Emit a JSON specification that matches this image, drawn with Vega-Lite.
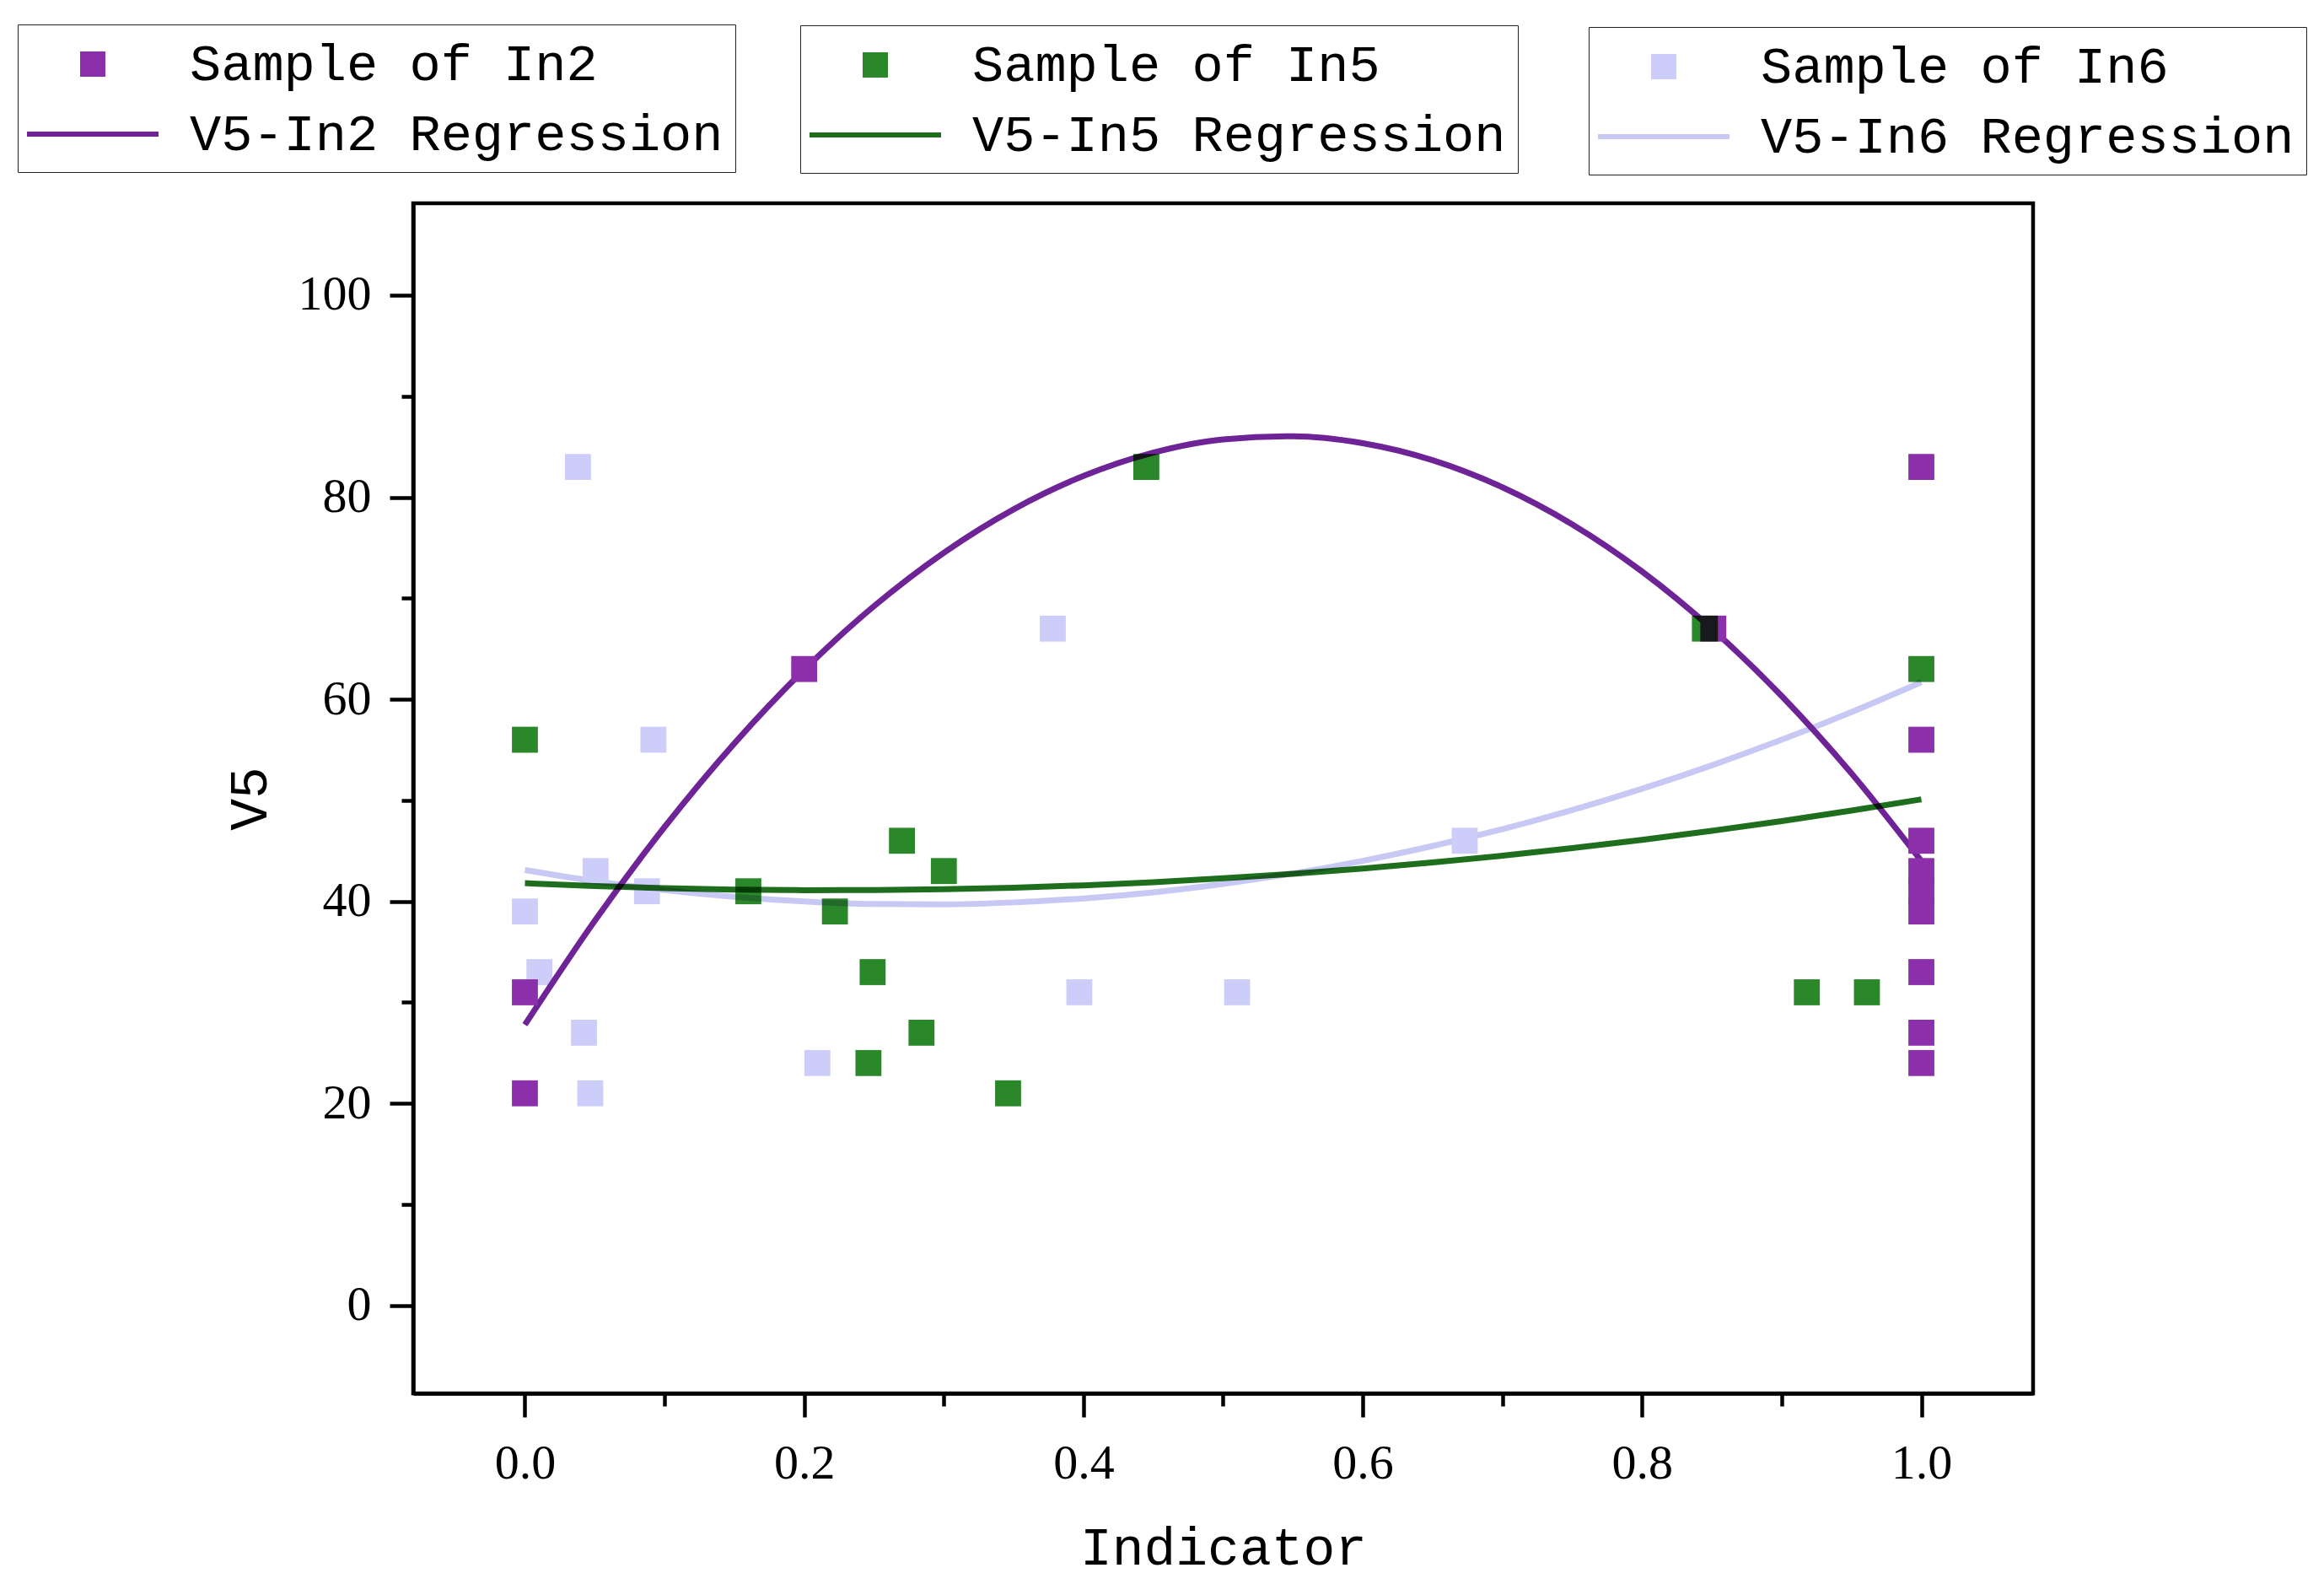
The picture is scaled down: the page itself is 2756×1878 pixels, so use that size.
{
  "$schema": "https://vega.github.io/schema/vega-lite/v6.json",
  "autosize": "none",
  "width": 1921,
  "height": 1411,
  "padding": {"left": 490, "top": 241, "right": 345, "bottom": 226},
  "background": "white",
  "config": {
    "view": {"stroke": "black", "strokeWidth": 4.5},
    "axis": {
      "grid": false,
      "domainColor": "black",
      "domainWidth": 4.5,
      "tickColor": "black",
      "tickWidth": 4.5,
      "labelColor": "black",
      "titleColor": "black",
      "labelFont": "Liberation Serif",
      "labelFontSize": 58,
      "titleFont": "Liberation Mono",
      "titleFontSize": 63,
      "titleFontWeight": "normal"
    }
  },
  "datasets": {
    "in2_pts": [
      {"x": 0, "y": 31, "label": "Sample of In2"},
      {"x": 0, "y": 21, "label": "Sample of In2"},
      {"x": 0.2, "y": 63, "label": "Sample of In2"},
      {"x": 0.851, "y": 67, "label": "Sample of In2"},
      {"x": 1, "y": 83, "label": "Sample of In2"},
      {"x": 1, "y": 56, "label": "Sample of In2"},
      {"x": 1, "y": 46, "label": "Sample of In2"},
      {"x": 1, "y": 43, "label": "Sample of In2"},
      {"x": 1, "y": 41, "label": "Sample of In2"},
      {"x": 1, "y": 39, "label": "Sample of In2"},
      {"x": 1, "y": 33, "label": "Sample of In2"},
      {"x": 1, "y": 27, "label": "Sample of In2"},
      {"x": 1, "y": 24, "label": "Sample of In2"}
    ],
    "in2_fit": [
      {"x": 0, "y": 27.8, "label": "V5-In2 Regression"},
      {"x": 0.05, "y": 38.08, "label": "V5-In2 Regression"},
      {"x": 0.1, "y": 47.36, "label": "V5-In2 Regression"},
      {"x": 0.15, "y": 55.64, "label": "V5-In2 Regression"},
      {"x": 0.2, "y": 62.93, "label": "V5-In2 Regression"},
      {"x": 0.25, "y": 69.22, "label": "V5-In2 Regression"},
      {"x": 0.3, "y": 74.51, "label": "V5-In2 Regression"},
      {"x": 0.35, "y": 78.81, "label": "V5-In2 Regression"},
      {"x": 0.4, "y": 82.11, "label": "V5-In2 Regression"},
      {"x": 0.45, "y": 84.42, "label": "V5-In2 Regression"},
      {"x": 0.5, "y": 85.73, "label": "V5-In2 Regression"},
      {"x": 0.55, "y": 86.04, "label": "V5-In2 Regression"},
      {"x": 0.6, "y": 85.35, "label": "V5-In2 Regression"},
      {"x": 0.65, "y": 83.67, "label": "V5-In2 Regression"},
      {"x": 0.7, "y": 80.99, "label": "V5-In2 Regression"},
      {"x": 0.75, "y": 77.32, "label": "V5-In2 Regression"},
      {"x": 0.8, "y": 72.65, "label": "V5-In2 Regression"},
      {"x": 0.85, "y": 66.98, "label": "V5-In2 Regression"},
      {"x": 0.9, "y": 60.32, "label": "V5-In2 Regression"},
      {"x": 0.95, "y": 52.66, "label": "V5-In2 Regression"},
      {"x": 1, "y": 44.0, "label": "V5-In2 Regression"}
    ],
    "in5_pts": [
      {"x": 0, "y": 56, "label": "Sample of In5"},
      {"x": 0.16, "y": 41, "label": "Sample of In5"},
      {"x": 0.222, "y": 39, "label": "Sample of In5"},
      {"x": 0.249, "y": 33, "label": "Sample of In5"},
      {"x": 0.246, "y": 24, "label": "Sample of In5"},
      {"x": 0.27, "y": 46, "label": "Sample of In5"},
      {"x": 0.284, "y": 27, "label": "Sample of In5"},
      {"x": 0.3, "y": 43, "label": "Sample of In5"},
      {"x": 0.346, "y": 21, "label": "Sample of In5"},
      {"x": 0.445, "y": 83, "label": "Sample of In5"},
      {"x": 0.845, "y": 67, "label": "Sample of In5"},
      {"x": 0.918, "y": 31, "label": "Sample of In5"},
      {"x": 0.961, "y": 31, "label": "Sample of In5"},
      {"x": 1, "y": 63, "label": "Sample of In5"}
    ],
    "in5_fit": [
      {"x": 0, "y": 41.8, "label": "V5-In5 Regression"},
      {"x": 0.05, "y": 41.52, "label": "V5-In5 Regression"},
      {"x": 0.1, "y": 41.31, "label": "V5-In5 Regression"},
      {"x": 0.15, "y": 41.17, "label": "V5-In5 Regression"},
      {"x": 0.2, "y": 41.11, "label": "V5-In5 Regression"},
      {"x": 0.25, "y": 41.12, "label": "V5-In5 Regression"},
      {"x": 0.3, "y": 41.2, "label": "V5-In5 Regression"},
      {"x": 0.35, "y": 41.36, "label": "V5-In5 Regression"},
      {"x": 0.4, "y": 41.59, "label": "V5-In5 Regression"},
      {"x": 0.45, "y": 41.9, "label": "V5-In5 Regression"},
      {"x": 0.5, "y": 42.28, "label": "V5-In5 Regression"},
      {"x": 0.55, "y": 42.73, "label": "V5-In5 Regression"},
      {"x": 0.6, "y": 43.25, "label": "V5-In5 Regression"},
      {"x": 0.65, "y": 43.85, "label": "V5-In5 Regression"},
      {"x": 0.7, "y": 44.52, "label": "V5-In5 Regression"},
      {"x": 0.75, "y": 45.27, "label": "V5-In5 Regression"},
      {"x": 0.8, "y": 46.09, "label": "V5-In5 Regression"},
      {"x": 0.85, "y": 46.98, "label": "V5-In5 Regression"},
      {"x": 0.9, "y": 47.95, "label": "V5-In5 Regression"},
      {"x": 0.95, "y": 48.99, "label": "V5-In5 Regression"},
      {"x": 1, "y": 50.1, "label": "V5-In5 Regression"}
    ],
    "in6_pts": [
      {"x": 0.038, "y": 83, "label": "Sample of In6"},
      {"x": 0.378, "y": 67, "label": "Sample of In6"},
      {"x": 0.092, "y": 56, "label": "Sample of In6"},
      {"x": 0.0506, "y": 43, "label": "Sample of In6"},
      {"x": 0.0874, "y": 41, "label": "Sample of In6"},
      {"x": 0, "y": 39, "label": "Sample of In6"},
      {"x": 0.0104, "y": 33, "label": "Sample of In6"},
      {"x": 0.397, "y": 31, "label": "Sample of In6"},
      {"x": 0.0423, "y": 27, "label": "Sample of In6"},
      {"x": 0.2094, "y": 24, "label": "Sample of In6"},
      {"x": 0.0468, "y": 21, "label": "Sample of In6"},
      {"x": 0.673, "y": 46, "label": "Sample of In6"},
      {"x": 0.51, "y": 31, "label": "Sample of In6"}
    ],
    "in6_fit": [
      {"x": 0, "y": 43.1, "label": "V5-In6 Regression"},
      {"x": 0.05, "y": 42.0, "label": "V5-In6 Regression"},
      {"x": 0.1, "y": 41.12, "label": "V5-In6 Regression"},
      {"x": 0.15, "y": 40.45, "label": "V5-In6 Regression"},
      {"x": 0.2, "y": 39.99, "label": "V5-In6 Regression"},
      {"x": 0.25, "y": 39.74, "label": "V5-In6 Regression"},
      {"x": 0.3, "y": 39.71, "label": "V5-In6 Regression"},
      {"x": 0.35, "y": 39.9, "label": "V5-In6 Regression"},
      {"x": 0.4, "y": 40.29, "label": "V5-In6 Regression"},
      {"x": 0.45, "y": 40.9, "label": "V5-In6 Regression"},
      {"x": 0.5, "y": 41.73, "label": "V5-In6 Regression"},
      {"x": 0.55, "y": 42.76, "label": "V5-In6 Regression"},
      {"x": 0.6, "y": 44.01, "label": "V5-In6 Regression"},
      {"x": 0.65, "y": 45.48, "label": "V5-In6 Regression"},
      {"x": 0.7, "y": 47.15, "label": "V5-In6 Regression"},
      {"x": 0.75, "y": 49.04, "label": "V5-In6 Regression"},
      {"x": 0.8, "y": 51.15, "label": "V5-In6 Regression"},
      {"x": 0.85, "y": 53.47, "label": "V5-In6 Regression"},
      {"x": 0.9, "y": 56.0, "label": "V5-In6 Regression"},
      {"x": 0.95, "y": 58.74, "label": "V5-In6 Regression"},
      {"x": 1, "y": 61.7, "label": "V5-In6 Regression"}
    ]
  },
  "encoding": {
    "x": {
      "field": "x",
      "type": "quantitative",
      "title": "Indicator",
      "scale": {"domain": [-0.08, 1.08], "nice": false, "zero": false},
      "axis": {
        "values": [0, 0.1, 0.2, 0.3, 0.4, 0.5, 0.6, 0.7, 0.8, 0.9, 1.0],
        "format": ".1f",
        "labelExpr": "round(datum.value * 10) % 2 == 0 ? datum.label : ''",
        "tickSize": {"condition": {"test": "round(datum.value * 10) % 2 == 0", "value": 28}, "value": 15},
        "labelPadding": 26,
        "labelFlush": false,
        "titlePadding": 40
      }
    },
    "y": {
      "field": "y",
      "type": "quantitative",
      "title": "V5",
      "scale": {"domain": [-8.7, 109.1], "nice": false, "zero": false},
      "axis": {
        "values": [0, 10, 20, 30, 40, 50, 60, 70, 80, 90, 100],
        "labelExpr": "round(datum.value / 10) % 2 == 0 ? datum.label : ''",
        "tickSize": {"condition": {"test": "round(datum.value / 10) % 2 == 0", "value": 28}, "value": 14},
        "labelPadding": 22,
        "labelFlush": false,
        "titlePadding": 25
      }
    }
  },
  "layer": [
    {
      "layer": [
        {
          "data": {"name": "in6_fit"},
          "mark": {"type": "line", "strokeWidth": 7, "interpolate": "monotone"},
          "encoding": {
            "color": {"field": "label", "type": "nominal"}
          }
        },
        {
          "data": {"name": "in6_pts"},
          "mark": {"type": "point", "filled": true, "size": 5929, "opacity": 1},
          "encoding": {
            "shape": {
              "field": "label",
              "type": "nominal",
              "scale": {"domain": ["Sample of In6", "V5-In6 Regression"], "range": ["M-0.4,-0.4H0.4V0.4H-0.4Z", "M-2.6,0H2.6"]},
              "legend": {
                "title": null, "orient": "none", "legendX": 1394, "legendY": -209, "direction": "vertical",
                "labelFont": "Liberation Mono", "labelFontSize": 62, "labelColor": "black", "labelOffset": 82, "labelLimit": 0,
                "symbolOffset": 42, "symbolSize": 3600, "symbolStrokeWidth": 6,
                "symbolFillColor": "#cdcdf9", "symbolStrokeColor": "#c8c8f4",
                "rowPadding": 19, "padding": 14, "strokeColor": "#222222",
                "encode": {"legend": {"strokeWidth": {"value": 2.5}}, "symbols": {"strokeWidth": {"value": 6}, "opacity": {"value": 1}}}
              }
            },
            "color": {
              "field": "label",
              "type": "nominal",
              "scale": {"domain": ["Sample of In6", "V5-In6 Regression"], "range": ["#cdcdf9", "#c8c8f4"]},
              "legend": {
                "title": null, "orient": "none", "legendX": 1394, "legendY": -209, "direction": "vertical",
                "labelFont": "Liberation Mono", "labelFontSize": 62, "labelColor": "black", "labelOffset": 82, "labelLimit": 0,
                "symbolOffset": 42, "symbolSize": 3600, "symbolStrokeWidth": 6,
                "symbolFillColor": "#cdcdf9", "symbolStrokeColor": "#c8c8f4",
                "rowPadding": 19, "padding": 14, "strokeColor": "#222222",
                "encode": {"legend": {"strokeWidth": {"value": 2.5}}, "symbols": {"strokeWidth": {"value": 6}, "opacity": {"value": 1}}}
              }
            }
          }
        }
      ]
    },
    {
      "layer": [
        {
          "data": {"name": "in2_fit"},
          "mark": {"type": "line", "strokeWidth": 7, "interpolate": "monotone"},
          "encoding": {
            "color": {"field": "label", "type": "nominal"}
          }
        },
        {
          "data": {"name": "in2_pts"},
          "mark": {"type": "point", "filled": true, "size": 5929, "opacity": 1},
          "encoding": {
            "shape": {
              "field": "label",
              "type": "nominal",
              "scale": {"domain": ["Sample of In2", "V5-In2 Regression"], "range": ["M-0.4,-0.4H0.4V0.4H-0.4Z", "M-2.6,0H2.6"]},
              "legend": {
                "title": null, "orient": "none", "legendX": -469, "legendY": -212, "direction": "vertical",
                "labelFont": "Liberation Mono", "labelFontSize": 62, "labelColor": "black", "labelOffset": 82, "labelLimit": 0,
                "symbolOffset": 42, "symbolSize": 3600, "symbolStrokeWidth": 6,
                "symbolFillColor": "#8c2faa", "symbolStrokeColor": "#6e2396",
                "rowPadding": 19, "padding": 14, "strokeColor": "#222222",
                "encode": {"legend": {"strokeWidth": {"value": 2.5}}, "symbols": {"strokeWidth": {"value": 6}, "opacity": {"value": 1}}}
              }
            },
            "color": {
              "field": "label",
              "type": "nominal",
              "scale": {"domain": ["Sample of In2", "V5-In2 Regression"], "range": ["#8c2faa", "#6e2396"]},
              "legend": {
                "title": null, "orient": "none", "legendX": -469, "legendY": -212, "direction": "vertical",
                "labelFont": "Liberation Mono", "labelFontSize": 62, "labelColor": "black", "labelOffset": 82, "labelLimit": 0,
                "symbolOffset": 42, "symbolSize": 3600, "symbolStrokeWidth": 6,
                "symbolFillColor": "#8c2faa", "symbolStrokeColor": "#6e2396",
                "rowPadding": 19, "padding": 14, "strokeColor": "#222222",
                "encode": {"legend": {"strokeWidth": {"value": 2.5}}, "symbols": {"strokeWidth": {"value": 6}, "opacity": {"value": 1}}}
              }
            }
          }
        }
      ]
    },
    {
      "layer": [
        {
          "data": {"name": "in5_fit"},
          "mark": {"type": "line", "strokeWidth": 7, "interpolate": "monotone", "blend": "multiply"},
          "encoding": {
            "color": {"field": "label", "type": "nominal"}
          }
        },
        {
          "data": {"name": "in5_pts"},
          "mark": {"type": "point", "filled": true, "size": 5929, "opacity": 1, "blend": "multiply"},
          "encoding": {
            "shape": {
              "field": "label",
              "type": "nominal",
              "scale": {"domain": ["Sample of In5", "V5-In5 Regression"], "range": ["M-0.4,-0.4H0.4V0.4H-0.4Z", "M-2.6,0H2.6"]},
              "legend": {
                "title": null, "orient": "none", "legendX": 459, "legendY": -211, "direction": "vertical",
                "labelFont": "Liberation Mono", "labelFontSize": 62, "labelColor": "black", "labelOffset": 82, "labelLimit": 0,
                "symbolOffset": 42, "symbolSize": 3600, "symbolStrokeWidth": 6,
                "symbolFillColor": "#2a872a", "symbolStrokeColor": "#1e6e1e",
                "rowPadding": 19, "padding": 14, "strokeColor": "#222222",
                "encode": {"legend": {"strokeWidth": {"value": 2.5}}, "symbols": {"strokeWidth": {"value": 6}, "opacity": {"value": 1}}}
              }
            },
            "color": {
              "field": "label",
              "type": "nominal",
              "scale": {"domain": ["Sample of In5", "V5-In5 Regression"], "range": ["#2a872a", "#1e6e1e"]},
              "legend": {
                "title": null, "orient": "none", "legendX": 459, "legendY": -211, "direction": "vertical",
                "labelFont": "Liberation Mono", "labelFontSize": 62, "labelColor": "black", "labelOffset": 82, "labelLimit": 0,
                "symbolOffset": 42, "symbolSize": 3600, "symbolStrokeWidth": 6,
                "symbolFillColor": "#2a872a", "symbolStrokeColor": "#1e6e1e",
                "rowPadding": 19, "padding": 14, "strokeColor": "#222222",
                "encode": {"legend": {"strokeWidth": {"value": 2.5}}, "symbols": {"strokeWidth": {"value": 6}, "opacity": {"value": 1}}}
              }
            }
          }
        }
      ]
    }
  ],
  "resolve": {"scale": {"color": "independent", "shape": "independent"}}
}
